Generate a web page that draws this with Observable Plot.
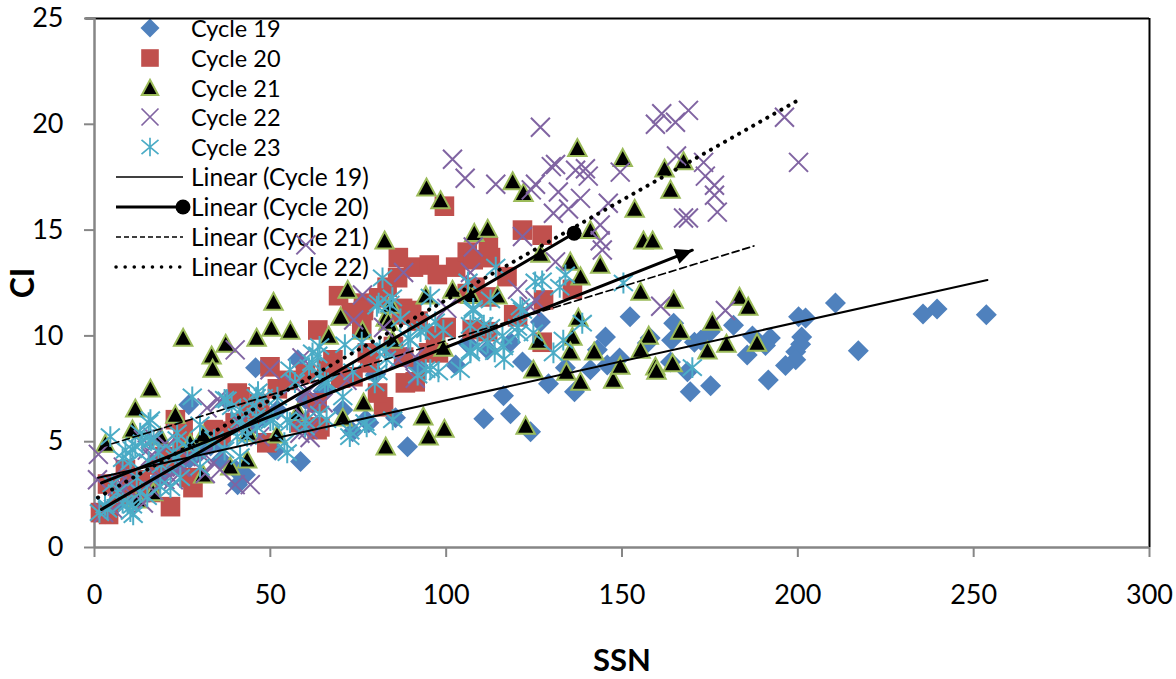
<!DOCTYPE html>
<html>
<head>
<meta charset="utf-8">
<script src="https://cdn.jsdelivr.net/npm/d3@7"></script>
<script src="https://cdn.jsdelivr.net/npm/@observablehq/plot@0.6"></script>
<style>
html,body{margin:0;padding:0;background:#fff;}
#wrap{position:relative;width:1176px;height:679px;overflow:hidden;font-family:Lato,sans-serif;}
#wrap svg.plot-main{position:absolute;left:0;top:0;}
.lg{position:absolute;font-size:23.5px;line-height:30px;color:#000;white-space:nowrap;left:191px;}
.lg.tr{font-size:24.5px;}
.sw{position:absolute;left:0;top:0;}
</style>
</head>
<body>
<div id="wrap"></div>
<script>
const cycle19 = [[253.6,11],[235.6,11.04],[239.6,11.27],[210.7,11.55],[217.2,9.3],[202.2,10.85],[200.2,10.9],[201.1,9.95],[200.8,9.6],[199.4,9.25],[199.4,8.87],[196.5,8.6],[191.6,7.92],[192.2,9.9],[190.8,9.55],[187.1,10],[185.6,9.1],[181.7,10.5],[175.2,7.64],[169.4,7.36],[168.6,8.3],[170.6,9.7],[172.4,9.8],[175.1,10.2],[164.1,9.8],[164.7,10.6],[163.8,8.77],[158,9.9],[157.2,9.67],[152.3,10.9],[145.3,9.95],[145.8,8.63],[149.3,8.96],[141,8.4],[143,9.34],[136.5,7.36],[133.9,8.5],[129.1,7.74],[126.8,10.66],[124,5.47],[118.3,6.32],[116.3,7.17],[110.7,6.08],[121.7,8.77],[118.3,9.7],[102.7,8.63],[111.8,9.34],[106,9.67],[89,4.76],[85.6,6.13],[77.1,6.04],[73.4,5.47],[70.6,6.5],[58.6,4.06],[57.8,8.87],[45.8,8.5],[55,7.83],[26.8,6.75],[51.4,4.6],[40.7,2.97],[42.9,3.44],[3,1.6],[6,2],[9,2.5],[12,2.2],[15,3],[18,3.2],[20,3.6],[24,3.9],[27,4.2],[30,4.5],[33,4.8],[36,4.9],[40,3.7],[36,4.15],[45,5.8],[48,6.2],[52,6.5],[60,7],[65,7.4],[80,8.2],[92,8.6],[97,9.2],[78,5.9],[38,6.9]];
const cycle20 = [[99.5,16.13],[121.7,15],[127.3,14.76],[86.4,13.7],[90.7,13.25],[95.2,13.35],[97.5,12.9],[102.7,13.25],[106,13.96],[107.7,13.6],[112,14.2],[112.6,13.7],[117.3,12.8],[86.2,12.75],[69.4,11.9],[76.5,11.55],[80.8,11.8],[83.2,12.3],[87.6,11.3],[90.2,11.2],[119.2,11],[127.7,11.7],[135.9,12.2],[120.3,10.9],[106,12],[111.8,11.84],[108.2,12.3],[127.3,9.7],[111.8,10.2],[107.4,10.3],[88.4,7.78],[91.2,7.83],[82.2,6.65],[80.5,7.3],[77.6,9.2],[97.8,9.2],[87.9,9],[76.5,11.2],[87.2,11],[73,11.1],[70,8],[64.1,5.7],[63.5,10.28],[49.9,8.54],[23,6.04],[25.2,5.57],[28,2.83],[21.6,1.93],[4,1.56],[1.7,1.65],[8.8,3.68],[41.4,7.12],[63.3,5.57],[49,4.95],[58.4,5.9],[63.3,6.84],[67.8,8.87],[73.5,8.07],[78.3,8.73],[33.8,5.57],[7,2.5],[10,2.8],[13,3.2],[16,2.6],[18,3.9],[20,4.3],[25,4.7],[27,3.3],[36,5.3],[40,5.9],[44,6.3],[47,6.8],[52,7.5],[55,7.9],[60,8.2],[66,8.5],[76,10.4],[95,9.2],[97,10],[100,10.4],[92,10.7],[85,9.5],[89,11],[3.7,3],[35.8,5.5],[40.6,7.3]];
const cycle21 = [[137.3,18.87],[150.2,18.4],[167.5,18.25],[162.1,17.9],[163.8,16.9],[94.4,17],[98.4,16.4],[118.9,17.3],[122,16.75],[153.6,16],[141,15],[156.1,14.5],[158.7,14.5],[108,14.86],[111.8,15.05],[82.5,14.5],[126.8,13.87],[135.3,13.5],[143.8,13.35],[138.2,12.8],[155.3,12.08],[164.7,11.7],[183.4,11.84],[185.9,11.37],[175.7,10.66],[166.6,10.24],[157.6,10],[137.6,10.85],[50.9,11.6],[72,12.17],[25.2,9.9],[37.3,9.62],[33.3,9.06],[33.6,8.44],[46.1,9.9],[50.3,10.38],[55.7,10.24],[66.6,10],[70,10.9],[76.2,10.24],[82.8,10.85],[84.2,11.46],[94.2,11.9],[101.8,12.17],[107,11.93],[114.6,11.9],[15.9,7.5],[11.6,6.56],[23,6.27],[3.1,4.9],[135.9,9.95],[126.3,9.76],[135.3,9.25],[142.1,9.25],[134.2,8.3],[138.2,7.83],[147.5,7.92],[149.5,8.58],[155.3,9.34],[159.5,8.54],[159.8,8.35],[164.4,8.7],[174.3,9.3],[179.7,9.62],[188.4,9.67],[124.8,8.4],[99.2,9.43],[82.8,4.76],[95,5.24],[99.5,5.6],[93.5,6.18],[76.5,6.84],[70.6,6.13],[122.6,5.75],[83.6,10.66],[84.7,9.81],[57.9,6.4],[43.4,4.15],[38.6,3.82],[30.9,3.44],[43.7,5.42],[30.9,5.33],[27.2,4.95],[18.7,5.24],[10.8,5.57],[51.9,5.33],[16.7,2.6],[12.2,2.26]];
const cycle22 = [[126.8,19.86],[101.8,18.35],[105.4,17.45],[114.1,17.17],[159.5,20],[161.3,20.5],[165.2,20.1],[168.9,20.66],[196.2,20.33],[200.2,18.2],[129.9,18],[131.1,18.1],[136.8,17.83],[139.6,17.9],[140.4,17.55],[125.4,17.17],[124.2,16.9],[131.9,16.8],[138.2,16.5],[134.8,16],[146.1,16.27],[143.8,15.24],[143.8,14.5],[144.4,14.06],[149.5,17.74],[165.5,18.5],[173.2,18.2],[173.7,17.55],[176.3,17.12],[176.3,16.65],[177.1,15.85],[167.5,15.57],[168.9,15.57],[121.7,14.7],[60.1,14.3],[40,9.34],[179.4,11.2],[161,11.4],[131.1,13.5],[130.5,15.8],[120.3,12.2],[87.9,13],[76.2,11.93],[107.7,14.2],[106.9,13],[125.3,11.7],[73.7,10.75],[82.2,10.4],[91.2,8],[91.2,9],[86.4,8.87],[100.2,11.3],[124,11.37],[1.1,4.4],[0.85,3.2],[49.9,8.4],[59,8.96],[32,6.6],[35.7,6.9],[40,2.97],[44.3,2.97],[35.7,3.68],[30.9,4.3],[13.9,5.1],[15,4.6],[8.2,3.8],[6.5,2.9],[2.6,1.65],[13.9,2.1],[22.4,3.2],[17.9,3.35],[59.3,6.2],[65,6.84],[71.8,7.9],[56.5,7.7],[60.7,7.45],[60.7,5.57],[47,5.24],[41.4,5.9],[20,4.9],[25,3.8],[10,3],[15.9,4.3],[16.7,5.2],[20.7,4.8],[35,7],[26.4,4.3],[31.5,3.5],[33.8,4],[8.2,2.9],[13,2.6],[16.7,2.7],[20,3.2],[24.4,3.8],[5.4,1.8],[60.4,7.3],[61.3,6.5],[61.3,5.2],[58.4,5.4]];
const cycle23 = [[1.4,1.65],[4.5,5.24],[27.8,7.12],[54.8,4.48],[46.5,7.36],[37.7,6.98],[15.9,6.04],[10.8,4.62],[13.6,4.95],[23.5,5.42],[10.2,1.7],[6.5,2.6],[18.7,2.88],[24.4,3.3],[21.6,2.83],[9.4,2.1],[13,2.6],[41.4,6.04],[41.4,6.5],[46.2,5.7],[50.8,6.04],[54.8,6.04],[59.9,5.7],[66,6.04],[72.6,5.24],[77.4,5.7],[55.6,8.4],[61.8,8.73],[63.5,9.1],[70.6,7.12],[71.2,9.58],[66.4,7.78],[79.7,7.78],[40.6,5.24],[26.4,4.76],[41.4,4.3],[81.9,12.74],[95.5,11.84],[84.7,11.8],[80.8,11.55],[106.2,12.55],[114.1,13.25],[112.6,11.7],[107.7,11.3],[125.3,12.55],[133.9,12.88],[132.3,12.3],[121.1,11.37],[96.9,10.66],[99.2,10.28],[92.7,10.2],[89.8,9.8],[95.5,8.4],[97.8,8.3],[104,8.4],[106.9,9.2],[111.8,9.67],[116.3,9.48],[120.6,10.14],[124.8,10.14],[130.5,9.2],[133.3,9.8],[138.7,10.6],[112.6,10.4],[107.7,11.2],[121.7,11.2],[84.8,6.04],[76.9,5.9],[80.6,8.3],[73.5,8.3],[81.1,9.43],[150.4,12.5],[170,8.5],[19,3.9],[30,5.8],[34,5.1],[16,5.1],[8,4.2],[5,3],[29,4.6],[37,4.6],[45,6.7],[52,7.1],[57,7.8],[64,8.2],[87,10.8],[76,9.7],[3,2],[12,3.3],[23,4.2],[15.4,5.9],[13,5.4],[8.8,4.6],[11.6,4.8],[18.2,4.5],[10.2,4.05],[15.4,4.05],[23.5,5.1],[22.4,4.5],[30,3.8],[15,2.4],[10.8,2],[8,2.1],[11,1.55],[3.7,1.8],[37,7],[43.4,5.25],[46,7.1],[16.8,5.1],[62,9.2],[64,9.5],[61,8.5],[65.5,7.8],[83,8.9],[48,7.1],[39,6.65],[64,6.3],[60,6],[55.6,5.9],[50,6],[46,6.2],[42,5.7],[72.6,5.5],[80.3,11.4],[84,11.5],[54,4.95],[127.3,12.6],[94.2,10.3],[89.2,9.9],[106.9,10.5],[110.7,10.5],[120.3,10.4],[116,10],[106.9,9.3],[108.9,9.5],[113.8,9.25],[116.5,8.9],[94.2,8.4],[91.9,8.15],[82.8,9.3]];

const trend19 = [[1,3.3],[253.9,12.64]];
const trend20 = [[2,1.8],[136.4,14.85]];
const trend21 = [[2,4.75],[187.5,14.25]];
const trend22 = [[1,2.36],[200,21.13]];
const trend23 = [[2,3.05],[170,14.05]];

const xTicks = [0,50,100,150,200,250,300];
const yTicks = [0,5,10,15,20,25];
const legendSeries = ["Cycle 19","Cycle 20","Cycle 21","Cycle 22","Cycle 23"];
const legendTrends = ["Linear (Cycle 19)","Linear (Cycle 20)","Linear (Cycle 21)","Linear (Cycle 22)"];

const BLUE="#4f81bd", RED="#c0504d", GREEN="#9bbb59", PURPLE="#8064a2", CYAN="#4bacc6", GRAY="#868686";
const R=9.5;
const rad=s=>Math.sqrt(s/Math.PI);
const diamond={draw(c,s){const r=rad(s)+1;c.moveTo(0,-r);c.lineTo(r,0);c.lineTo(0,r);c.lineTo(-r,0);c.closePath();}};
const square={draw(c,s){const r=rad(s)+0.3;c.rect(-r,-r,2*r,2*r);}};
const triangle={draw(c,s){const r=rad(s)-0.3;c.moveTo(0,-r);c.lineTo(r,r*0.85);c.lineTo(-r,r*0.85);c.closePath();}};
const cross={draw(c,s){const r=rad(s);c.moveTo(-r,-r);c.lineTo(r,r);c.moveTo(-r,r);c.lineTo(r,-r);}};
const star={draw(c,s){const r=rad(s);c.moveTo(-r,-r*.85);c.lineTo(r,r*.85);c.moveTo(-r,r*.85);c.lineTo(r,-r*.85);c.moveTo(0,-r*1.1);c.lineTo(0,r*1.1);}};
const head={draw(c,s){c.moveTo(0,0);c.lineTo(-8,17);c.lineTo(8,17);c.closePath();}};

const X=d=>d[0], Y=d=>d[1];
const fs=27;
const chart = Plot.plot({
  width:1176,height:679,marginLeft:94,marginRight:27,marginTop:18,marginBottom:132,
  style:{background:"transparent",fontFamily:"Lato,sans-serif"},
  x:{domain:[0,300]},y:{domain:[0,25]},
  marks:[
    Plot.ruleX([300],{stroke:"#000",strokeWidth:2}),
    Plot.ruleY([25],{stroke:"#000",strokeWidth:2,x1:-2.5,x2:300}),
    Plot.axisX({ticks:xTicks,tickSize:10,tickPadding:27,fontSize:fs,label:null,stroke:GRAY,strokeWidth:2,color:"#000",tickFormat:d=>String(d)}),
    Plot.axisY({ticks:yTicks,tickSize:10,tickPadding:21,fontSize:fs,label:null,stroke:GRAY,strokeWidth:2,color:"#000",tickFormat:d=>String(d)}),
    Plot.axisX({ticks:[],label:"SSN",labelAnchor:"center",labelArrow:"none",labelOffset:123,fontSize:31,fontWeight:"bold",color:"#000"}),
    Plot.axisY({ticks:[],label:"CI",labelAnchor:"center",labelArrow:"none",labelOffset:83,fontSize:32,fontWeight:"bold",color:"#000"}),
    Plot.ruleX([0],{stroke:GRAY,strokeWidth:2.5}),
    Plot.ruleY([0],{stroke:GRAY,strokeWidth:2.5}),
    Plot.dot(cycle19,{x:X,y:Y,r:R,symbol:diamond,fill:BLUE,stroke:"none"}),
    Plot.dot(cycle20,{x:X,y:Y,r:R,symbol:square,fill:RED,stroke:"none"}),
    Plot.dot(cycle21,{x:X,y:Y,r:R,symbol:triangle,fill:"#000",stroke:GREEN,strokeWidth:2}),
    Plot.dot(cycle22,{x:X,y:Y,r:R,symbol:cross,fill:"none",stroke:PURPLE,strokeWidth:2}),
    Plot.dot(cycle23,{x:X,y:Y,r:R,symbol:star,fill:"none",stroke:CYAN,strokeWidth:2}),
    Plot.line(trend19,{x:X,y:Y,stroke:"#000",strokeWidth:2}),
    Plot.line(trend20,{x:X,y:Y,stroke:"#000",strokeWidth:3}),
    Plot.dot(trend20.slice(1),{x:X,y:Y,r:7.5,fill:"#000",stroke:"none"}),
    Plot.line(trend21,{x:X,y:Y,stroke:"#000",strokeWidth:1.7,strokeDasharray:"7 4"}),
    Plot.line(trend22,{x:X,y:Y,stroke:"#000",strokeWidth:4,strokeDasharray:"0.1 8",strokeLinecap:"round"}),
    Plot.line(trend23,{x:X,y:Y,stroke:"#000",strokeWidth:3}),
    Plot.dot(trend23.slice(1),{x:X,y:Y,r:R,symbol:head,rotate:68.6,fill:"#000",stroke:"none"})
  ]
});
chart.classList.add("plot-main");

const wrap=document.getElementById("wrap");
// legend sits behind the chart, as in the reference
const rowsY=[28,58,88,117,147,177,207,237,267];
const NS="http://www.w3.org/2000/svg";
const sw=document.createElementNS(NS,"svg");
sw.setAttribute("width",1176);sw.setAttribute("height",679);sw.setAttribute("class","sw");
const lines=[{},{w:3,dot:true},{w:1.7,dash:"5 3"},{w:3.5,dash:"0.1 9",cap:"round"}];
const syms=[[diamond,BLUE,"none",0],[square,RED,"none",0],[triangle,"#000",GREEN,2],[cross,"none",PURPLE,1.7],[star,"none",CYAN,1.7]];
syms.forEach(([sy,fill,stroke,w],i)=>{
  const p=document.createElementNS(NS,"path");
  const ctx=d3.path();sy.draw(ctx,Math.PI*8.5*8.5);
  p.setAttribute("d",ctx.toString());p.setAttribute("transform",`translate(150,${rowsY[i]})`);
  p.setAttribute("fill",fill);p.setAttribute("stroke",stroke);p.setAttribute("stroke-width",w);
  sw.appendChild(p);
});
lines.forEach((l,i)=>{
  const y=rowsY[i+5];
  const ln=document.createElementNS(NS,"line");
  ln.setAttribute("x1",116);ln.setAttribute("x2",183);ln.setAttribute("y1",y);ln.setAttribute("y2",y);
  ln.setAttribute("stroke","#000");ln.setAttribute("stroke-width",l.w||1.7);
  if(l.dash)ln.setAttribute("stroke-dasharray",l.dash);
  if(l.cap)ln.setAttribute("stroke-linecap",l.cap);
  sw.appendChild(ln);
  if(l.dot){const c=document.createElementNS(NS,"circle");c.setAttribute("cx",183);c.setAttribute("cy",y);c.setAttribute("r",7.5);sw.appendChild(c);}
});
wrap.appendChild(sw);
[...legendSeries,...legendTrends].forEach((t,i)=>{
  const d=document.createElement("div");d.className=i>=legendSeries.length?"lg tr":"lg";d.textContent=t;
  d.style.top=(rowsY[i]-15)+"px";wrap.appendChild(d);
});
wrap.appendChild(chart);
</script>
</body>
</html>
